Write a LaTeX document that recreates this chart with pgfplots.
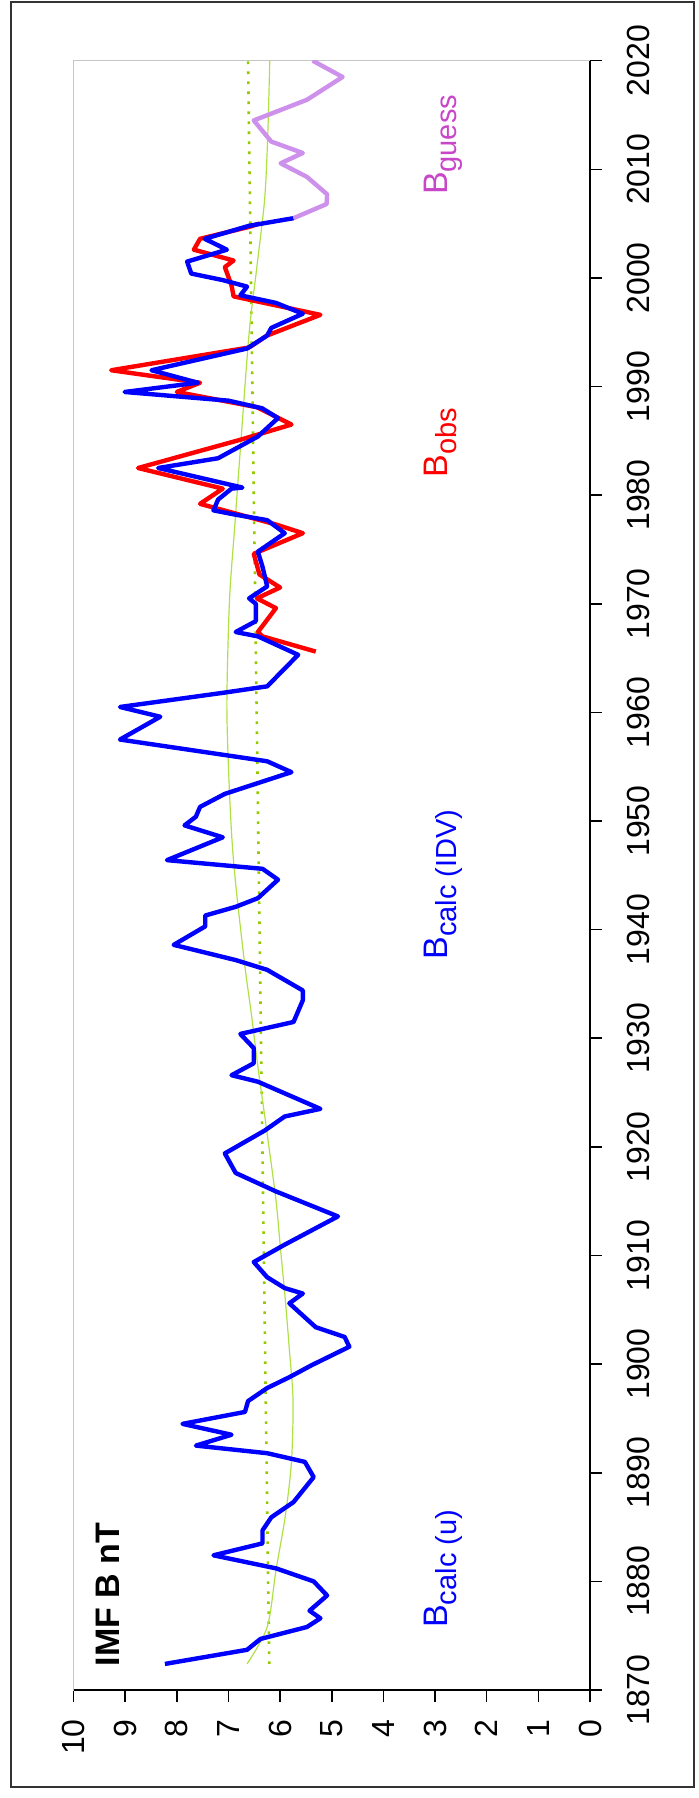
\documentclass[border=0pt]{standalone}
\usepackage{fontspec}
\setmainfont{Liberation Sans}
\usepackage{pgfplots}
\pgfplotsset{compat=1.18}
\definecolor{bcalc}{RGB}{0,0,255}
\definecolor{bobs}{RGB}{255,0,0}
\definecolor{bguess}{RGB}{205,145,235}
\definecolor{bguesstxt}{RGB}{200,70,200}
\definecolor{dgreen}{RGB}{150,200,0}
\definecolor{tgreen}{RGB}{175,225,70}
\begin{document}
\begin{tikzpicture}
\path[use as bounding box] (-36.75pt,-54pt) rectangle (312.25pt,845pt);
\draw[line width=0.8pt, black!80] (-31.25pt,-48.5pt) rectangle (310.25pt,844pt);
\begin{axis}[
  name=ax,
  at={(0,0)}, anchor=south west,
  scale only axis, width=258.25pt, height=814.65pt,
  xmin=0, xmax=10, ymin=1870, ymax=2020,
  x dir=reverse,
  xtick={0,1,...,10}, ytick={1870,1880,...,2020},
  tick align=inside, major tick length=-6pt,
  xtick pos=bottom, ytick pos=right, yticklabel pos=right,
  axis line style={draw=gray!45, line width=0.5pt},
  tick style={black, line width=0.8pt},
  ticklabel style={font=\fontsize{16}{16}\selectfont, inner sep=0pt},
  xticklabel style={rotate=90, anchor=east},
  yticklabel style={rotate=90, anchor=north},
  xticklabel shift=14.5pt,
  yticklabel shift=18.5pt,
  /pgf/number format/assume math mode=true,
  /pgf/number format/1000 sep={},
  clip mode=individual,
]
\addplot[color=dgreen, line width=1.3pt, dash pattern=on 1.3pt off 3.7pt] coordinates {(6.21,1872.4) (6.62,2020)};
\addplot[color=tgreen, line width=0.6pt, smooth] coordinates {
(6.64,1872.4) (6.25,1875.8) (6.08,1881) (5.9,1886) (5.78,1891) (5.75,1896.7)
(5.82,1901.3) (5.9,1906) (5.99,1910.5) (6.08,1915.1) (6.25,1921.2) (6.43,1927.4)
(6.55,1932) (6.68,1936.6) (6.86,1944.2) (6.94,1948.9) (7.0,1955) (7.03,1961.1)
(6.98,1970.3) (6.88,1977) (6.77,1984.2) (6.6,1994.9) (6.45,2001) (6.30,2007.2)
(6.24,2013) (6.2,2020)};
\addplot[color=bobs, line width=2.2pt, line join=round] coordinates {
(5.31,1965.6) (6.34,1967.0) (6.43,1967.4) (6.08,1969.6) (6.45,1970.5) (6.00,1971.5)
(6.40,1972.7) (6.51,1974.6) (5.56,1976.5) (6.08,1977.3) (7.55,1979.2) (7.11,1980.6)
(8.75,1982.5) (6.77,1985.1) (5.78,1986.5) (6.45,1988.1) (8.00,1989.5) (7.55,1990.35)
(9.27,1991.5) (6.60,1993.6) (6.25,1994.7) (5.22,1996.6) (6.90,1998.3) (6.94,1999.3)
(7.07,2001.0) (6.90,2001.6) (7.67,2002.6) (7.55,2003.6) (6.60,2004.7) (6.40,2005.0)};
\addplot[color=bcalc, line width=2.2pt, line join=round] coordinates {
(8.23,1872.4) (6.64,1873.7) (6.38,1874.7) (5.48,1875.8) (5.22,1876.6) (5.43,1877.3)
(5.09,1878.7) (5.35,1880.0) (6.08,1881.2) (7.29,1882.4) (6.34,1883.5) (6.34,1884.7)
(6.17,1885.9) (5.74,1887.3) (5.35,1889.6) (5.52,1891.0) (6.25,1891.8) (7.63,1892.5)
(6.94,1893.5) (7.89,1894.5) (6.68,1895.6) (6.62,1896.6) (6.25,1897.8) (5.82,1898.8)
(5.39,1899.9) (4.66,1901.6) (4.75,1902.5) (5.31,1903.4) (5.82,1905.6) (5.56,1906.5)
(5.91,1907.0) (6.25,1908.0) (6.51,1909.4) (5.91,1911.0) (4.88,1913.6) (6.08,1915.9)
(6.86,1917.6) (7.07,1919.4) (6.30,1921.5) (5.91,1922.8) (5.22,1923.5) (6.43,1926.0)
(6.94,1926.6) (6.51,1927.7) (6.51,1929.1) (6.77,1930.4) (5.74,1931.5) (5.56,1933.5)
(5.56,1934.4) (6.25,1936.3) (6.86,1937.2) (8.06,1938.6) (7.45,1940.3) (7.45,1941.3)
(6.86,1942.1) (6.43,1942.9) (6.04,1944.6) (6.34,1945.6) (8.19,1946.4) (7.11,1948.5)
(7.85,1949.6) (7.63,1950.4) (7.55,1951.3) (7.07,1952.5) (5.78,1954.5) (6.25,1955.5)
(9.10,1957.5) (8.32,1959.6) (9.10,1960.5) (7.11,1961.8) (6.25,1962.4) (5.65,1965.3)
(6.43,1967.0) (6.86,1967.4) (6.47,1968.4) (6.47,1970.0) (6.60,1970.5) (6.25,1971.6)
(6.34,1973.4) (6.43,1974.8) (5.91,1976.5) (6.25,1977.7) (6.86,1978.2) (7.29,1978.6)
(7.20,1979.6) (6.94,1980.6) (6.73,1980.7) (8.36,1982.5) (7.20,1983.4) (6.43,1985.4)
(6.04,1987.1) (6.35,1988.0) (7.00,1988.7) (9.01,1989.5) (7.59,1990.35) (8.49,1991.5)
(6.64,1993.5) (6.25,1994.7) (6.17,1995.4) (5.56,1996.7) (6.08,1997.7) (6.77,1998.4)
(6.64,1999.2) (7.11,1999.8) (7.72,2000.4) (7.80,2001.5) (7.03,2002.6) (7.46,2003.6)
(6.60,2004.8) (5.74,2005.5)};
\addplot[color=bguess, line width=2.2pt, line join=round] coordinates {
(5.74,2005.5) (5.10,2006.8) (5.09,2007.7) (5.48,2009.3) (5.99,2010.55) (5.56,2011.5)
(6.17,2012.55) (6.51,2014.5) (5.48,2016.4) (4.79,2018.5) (5.37,2020.0)};
\node[rotate=90, anchor=center, inner sep=0pt] at (axis cs:9.34,1878.8)
  {\fontsize{17}{17}\selectfont\bfseries IMF B nT};
\node[rotate=90, anchor=base west, inner sep=0pt, text=bcalc] at (axis cs:2.75,1875.7)
  {\fontsize{17}{17}\selectfont B\raisebox{-4.5pt}{\fontsize{14.5}{14.5}\selectfont calc (u)}};
\node[rotate=90, anchor=base west, inner sep=0pt, text=bcalc] at (axis cs:2.75,1937.2)
  {\fontsize{17}{17}\selectfont B\raisebox{-4.5pt}{\fontsize{14.5}{14.5}\selectfont calc (IDV)}};
\node[rotate=90, anchor=base west, inner sep=0pt, text=bobs] at (axis cs:2.75,1981.6)
  {\fontsize{17}{17}\selectfont B\raisebox{-4.5pt}{\fontsize{14.5}{14.5}\selectfont obs}};
\node[rotate=90, anchor=base west, inner sep=0pt, text=bguesstxt] at (axis cs:2.75,2007.6)
  {\fontsize{17}{17}\selectfont B\raisebox{-4.5pt}{\fontsize{14.5}{14.5}\selectfont guess}};
\end{axis}
\draw[black, line width=0.8pt] (ax.south west) -- (ax.south east) -- (ax.north east);
\end{tikzpicture}
\end{document}
